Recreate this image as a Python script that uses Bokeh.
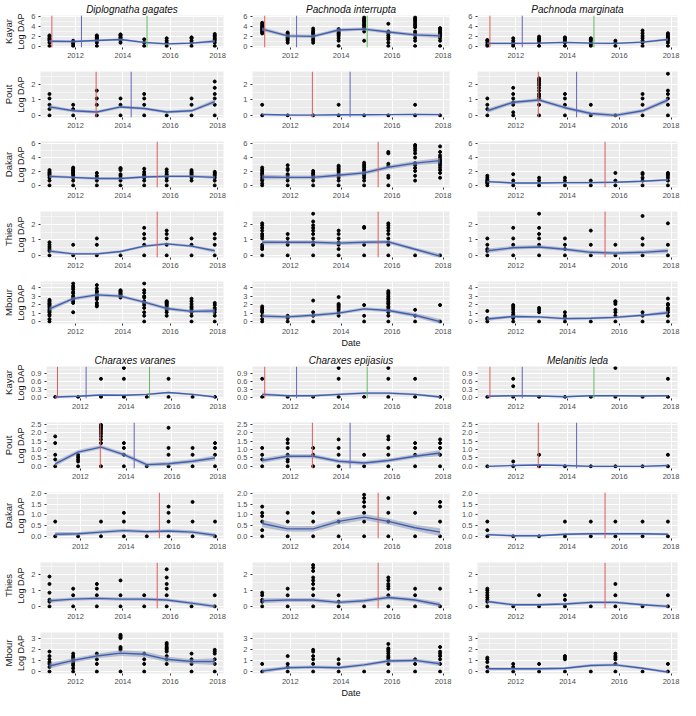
from bokeh.plotting import figure
from bokeh.layouts import column, row
from bokeh.models import Range1d, FixedTicker, PrintfTickFormatter, Span, Title
from bokeh.embed import file_html
from bokeh.resources import INLINE

FONT = "Liberation Sans"

# ---------------- data ----------------
DATES = [2010.9, 2011.9, 2012.9, 2013.9, 2014.9, 2015.85, 2016.9, 2017.88]
X_TICKS = [2012, 2014, 2016, 2018]
X_MINOR = [2011, 2013, 2015, 2017]
SITES = ["Kayar", "Pout", "Dakar", "Thies", "Mbour"]
SPECIES_1 = ["Diplognatha gagates", "Pachnoda interrupta", "Pachnoda marginata"]
SPECIES_2 = ["Charaxes varanes", "Charaxes epijasius", "Melanitis leda"]

RED, BLUE, GREEN = "#DC5C5C", "#6464B8", "#62B862"
EVENTS = {
    "Kayar": [(2011.0, RED), (2012.25, BLUE), (2015.02, GREEN)],
    "Pout": [(2012.87, RED), (2014.35, BLUE)],
    "Dakar": [(2015.45, RED)],
    "Thies": [(2015.45, RED)],
    "Mbour": [],
}

# Diplognatha gagates
DG_KAY = [[0, 0.69, 1.1, 1.39, 1.61, 1.95, 2.2], [0, 0.41, 0.69, 1.1], [0, 0.69, 1.1, 1.39, 1.61, 1.79, 2.08, 2.2],
          [0.69, 1.1, 1.39, 1.61, 1.79, 2.08, 2.3, 2.4], [0, 0.69, 1.39], [0, 0.69, 1.1, 1.61],
          [0, 0.69, 1.1, 1.61, 1.79], [0, 0.69, 1.1, 1.39, 1.61, 1.95, 2.2, 2.5]]
DG_KAY_FIT = [1.0, 0.95, 1.15, 1.35, 0.75, 0.45, 0.6, 1.0]
DG_KAY_SE = [0.25, 0.2, 0.2, 0.2, 0.2, 0.2, 0.2, 0.3]
DG_POU = [[0, 0.41, 0.69, 1.1, 1.39], [0, 0.41, 0.69], [0, 0.69, 1.1, 1.61], [0, 0.69, 1.1], [0, 0.69, 1.1, 1.39],
          [0], [0, 0.69, 1.1], [0, 0.69, 1.1, 1.39, 1.79, 2.2]]
DG_POU_FIT = [0.55, 0.3, 0.22, 0.55, 0.45, 0.22, 0.3, 0.9]
DG_POU_SE = [0.12, 0.1, 0.1, 0.1, 0.1, 0.1, 0.1, 0.15]
DG_DAK = [[0, 0.69, 1.1, 1.39, 1.61, 1.79, 1.95, 2.2], [0, 0.69, 1.1, 1.39, 1.61, 1.79, 1.95, 2.08, 2.2, 2.4, 2.56],
          [0, 0.69, 1.1, 1.39, 1.79], [0, 0.69, 1.1, 1.39, 1.61, 2.2, 2.4, 2.5], [0, 0.69, 1.1, 1.39, 1.61, 1.95, 2.4],
          [0, 0.69, 1.1, 1.39, 1.61, 1.95, 2.3], [0.69, 1.1, 1.39, 1.61, 1.79, 1.95, 2.2],
          [0, 0.69, 1.1, 1.39, 1.61, 1.79, 1.95]]
DG_DAK_FIT = [1.3, 1.15, 1.0, 1.0, 1.2, 1.3, 1.3, 1.15]
DG_DAK_SE = [0.22, 0.18, 0.18, 0.18, 0.18, 0.18, 0.18, 0.22]
DG_THI = [[0, 0.29, 0.41, 0.55, 0.69, 0.85], [0, 0.69], [0, 0.69, 1.1], [0], [0, 0.69, 1.1, 1.39, 1.79],
          [0, 0.69, 1.1, 1.39, 1.61], [0, 0.69, 1.1], [0, 0.69, 1.1, 1.39]]
DG_THI_FIT = [0.28, 0.1, 0.1, 0.25, 0.6, 0.75, 0.6, 0.3]
DG_THI_SE = [0.1, 0.08, 0.08, 0.08, 0.08, 0.08, 0.08, 0.12]
DG_MBO = [[0, 0.29, 0.69, 0.85, 1.1, 1.25, 1.39, 1.61, 1.79, 1.95, 2.08, 2.2, 2.4, 2.56],
          [1.1, 2.2, 2.4, 2.64, 2.77, 3.0, 3.33, 3.5, 3.8, 4.0, 4.2, 4.5],
          [1.79, 1.95, 2.2, 2.64, 2.83, 3.0, 3.22, 3.5, 3.6, 3.9, 4.3],
          [2.83, 3.0, 3.14, 3.26, 3.37, 3.5, 3.6, 3.7],
          [0, 0.69, 1.1, 1.61, 1.95, 2.2, 2.4, 2.83, 3.0, 3.4, 3.7, 4.5],
          [0.69, 1.1, 1.39, 1.61, 1.79, 1.95, 2.08, 2.2, 2.3, 2.4],
          [0, 0.69, 1.1, 1.39, 1.61, 1.79, 2.08, 2.4, 2.7], [0, 0.69, 1.1, 1.39, 1.61, 1.95, 2.2]]
DG_MBO_FIT = [1.5, 2.7, 3.15, 3.0, 2.3, 1.55, 1.2, 1.25]
DG_MBO_SE = [0.25, 0.2, 0.2, 0.2, 0.2, 0.2, 0.2, 0.3]

# Pachnoda interrupta
PI_KAY = [[2.6, 2.8, 3.0, 3.2, 3.4, 3.6, 3.8, 4.0, 4.2, 4.5, 4.8], [0.69, 1.1, 1.39, 1.61, 1.79, 2.08, 2.3, 2.56, 2.8],
          [0.69, 1.1, 1.39, 1.79, 2.08, 2.4, 2.64, 2.9, 3.2, 3.6], [0, 1.1, 1.61, 2.08, 2.4, 2.64, 2.9, 3.2, 3.5],
          [1.1, 3.0, 3.7, 4.0, 4.3, 4.5, 4.8, 5.1, 5.3, 5.6, 5.9], [0, 0.69, 1.39, 1.79, 2.2, 2.64, 3.0, 4.6],
          [0, 1.1, 1.61, 2.2, 2.64, 3.0, 3.9, 4.3, 4.6, 5.0, 5.3, 5.6, 5.9],
          [0, 1.1, 1.61, 2.08, 2.4, 2.64, 2.89, 3.2, 3.5, 3.7]]
PI_KAY_FIT = [3.5, 2.1, 2.0, 3.3, 3.5, 2.9, 2.3, 2.1]
PI_KAY_SE = [0.4, 0.35, 0.35, 0.35, 0.35, 0.35, 0.35, 0.45]
PI_POU = [[0, 0.69], [0], [0], [0, 0.69], [0], [0], [0, 0.69], [0]]
PI_POU_FIT = [0.06, 0.03, 0.02, 0.04, 0.04, 0.05, 0.07, 0.05]
PI_POU_SE = [0.05, 0.04, 0.04, 0.04, 0.04, 0.04, 0.04, 0.05]
PI_DAK = [[0, 0.29, 0.69, 0.85, 1.1, 1.39, 1.61, 1.79, 2.08, 2.3, 2.56], [0, 0.69, 1.1, 1.39, 1.61, 2.2, 2.4, 2.9],
          [0, 0.69, 1.1, 1.39, 1.61, 1.79, 2.08], [0, 0.69, 1.1, 1.39, 1.61, 1.95, 2.2, 2.4, 2.64, 2.83],
          [0, 0.69, 1.1, 1.39, 1.61, 1.79, 2.08, 2.3, 2.56, 2.77, 3.0, 3.26], [0, 1.1, 1.39, 2.8, 3.1, 4.6, 4.8],
          [0.69, 1.39, 2.08, 2.5, 2.9, 3.2, 4.0, 4.6, 5.0, 5.3, 5.6, 5.8],
          [1.1, 1.79, 2.2, 2.56, 2.9, 3.2, 3.5, 3.7, 4.0, 4.3, 4.8, 5.6]]
PI_DAK_FIT = [1.2, 1.15, 1.15, 1.45, 1.8, 2.6, 3.2, 3.55]
PI_DAK_SE = [0.35, 0.28, 0.28, 0.28, 0.28, 0.3, 0.3, 0.4]
PI_THI = [[0, 0.41, 0.55, 0.69, 1.1, 1.25, 1.39, 1.61, 1.79, 1.95, 2.08], [0, 0.69, 0.85, 1.1, 1.39],
          [0, 0.69, 0.85, 1.1, 1.39, 1.61, 1.79, 1.95, 2.2, 2.71], [0, 0.41, 0.69, 0.85, 1.1, 1.39, 1.61],
          [0, 0.69, 1.79, 1.85], [0, 0.69, 0.85, 1.1, 1.39, 1.61, 1.79, 1.95, 2.08], [0], [0]]
PI_THI_FIT = [0.85, 0.85, 0.85, 0.8, 0.85, 0.88, 0.4, -0.05]
PI_THI_SE = [0.15, 0.12, 0.12, 0.12, 0.12, 0.12, 0.12, 0.15]
PI_MBO = [[0, 0.29, 0.69, 1.1, 1.25, 1.39, 1.61, 1.79], [0, 0.41, 0.69], [0, 0.69, 1.1, 2.48],
          [0.69, 1.1, 1.39, 1.61, 1.79, 1.95, 2.08, 2.89], [0, 0.69, 1.95],
          [0, 0.69, 1.1, 1.39, 1.61, 1.79, 2.08, 2.2, 2.4, 2.64, 2.77, 3.0, 3.26, 3.4, 3.6], [0, 0.69, 1.39], [0, 1.95]]
PI_MBO_FIT = [0.65, 0.55, 0.75, 1.0, 1.5, 1.3, 0.75, 0.0]
PI_MBO_SE = [0.25, 0.2, 0.2, 0.2, 0.2, 0.2, 0.25, 0.3]

# Pachnoda marginata
PM_KAY = [[0, 0.29, 0.69, 1.1, 1.25], [0, 0.41, 0.69, 1.1, 1.61], [0, 0.69, 1.1, 1.39, 1.61, 1.95],
          [0, 0.69, 1.1, 1.39, 1.61, 1.79], [0, 0.41, 0.69, 1.1, 1.39, 1.61], [0, 0.69, 1.1],
          [0, 0.69, 1.1, 1.61, 2.08, 2.64, 3.2], [0, 0.69, 1.1, 1.39, 1.61, 1.79, 2.08, 2.4, 2.64]]
PM_KAY_FIT = [0.55, 0.55, 0.6, 0.75, 0.6, 0.55, 0.8, 1.35]
PM_KAY_SE = [0.2, 0.17, 0.17, 0.17, 0.17, 0.17, 0.17, 0.25]
PM_POU = [[0, 0.41, 0.69, 1.1], [0, 0.2, 0.69, 0.85, 1.1, 1.39, 1.79],
          [0, 0.69, 1.1, 1.25, 1.39, 1.61, 1.79, 1.95, 2.08, 2.2, 2.3, 2.4], [0, 0.69, 1.1, 1.39], [0, 0.69], [0],
          [0, 0.69, 1.1, 1.39], [0, 0.69, 1.1, 1.39, 1.61, 2.71]]
PM_POU_FIT = [0.3, 0.85, 1.0, 0.5, 0.12, 0.0, 0.3, 1.0]
PM_POU_SE = [0.15, 0.12, 0.12, 0.12, 0.12, 0.12, 0.12, 0.15]
PM_DAK = [[0, 0.29, 0.41, 0.55, 0.69, 0.85, 1.1, 1.39], [0, 0.69, 1.61], [0, 0.69, 1.1], [0, 0.69, 1.1], [0, 0.69],
          [0, 0.69, 1.79], [0, 0.69, 1.1, 1.61, 1.79], [0, 0.69, 1.1, 1.39, 1.61, 1.79]]
PM_DAK_FIT = [0.55, 0.35, 0.35, 0.4, 0.4, 0.45, 0.6, 0.8]
PM_DAK_SE = [0.15, 0.12, 0.12, 0.12, 0.12, 0.12, 0.12, 0.15]
PM_THI = [[0, 0.29, 0.41, 0.69, 1.1], [0, 0.69, 1.1, 1.79], [0, 0.69, 1.1, 1.39, 1.79, 2.71], [0, 0.41, 0.69, 1.1],
          [0, 0.69, 1.61], [0, 0.69], [0, 0.69, 1.1, 2.56], [0, 0.69, 2.08]]
PM_THI_FIT = [0.3, 0.5, 0.55, 0.4, 0.2, 0.15, 0.2, 0.3]
PM_THI_SE = [0.15, 0.12, 0.12, 0.12, 0.12, 0.12, 0.12, 0.15]
PM_MBO = [[0, 0.29, 0.41, 1.25], [0, 0.41, 0.69, 0.85, 1.1, 1.39, 1.61, 1.79, 1.95], [0, 1.1, 1.39, 1.61],
          [0, 0.41, 0.69, 1.1], [0], [0, 0.69, 1.1, 1.39, 2.08, 2.3, 2.4], [0, 0.69, 1.1],
          [0, 0.69, 1.1, 1.39, 1.61, 1.95, 2.08, 2.71]]
PM_MBO_FIT = [0.3, 0.6, 0.55, 0.35, 0.4, 0.5, 0.75, 1.05]
PM_MBO_SE = [0.2, 0.15, 0.15, 0.15, 0.15, 0.15, 0.15, 0.22]

# Charaxes varanes
CV_KAY = [[0], [0], [0, 0.69], [0, 0.69, 1.1], [0], [0, 0.69], [0], [0]]
CV_KAY_FIT = [0.0, 0.03, 0.08, 0.07, 0.1, 0.17, 0.1, 0.0]
CV_KAY_SE = [0.04, 0.03, 0.03, 0.03, 0.03, 0.03, 0.03, 0.04]
CV_POU = [[0, 0.41, 0.69, 1.39, 1.79], [0, 0.29, 0.41, 0.55, 0.69],
          [0, 1.39, 1.61, 1.79, 1.95, 2.08, 2.2, 2.3, 2.4, 2.48], [0, 0.69, 1.1, 1.39], [0], [0, 0.69, 1.1, 2.3],
          [0, 0.69, 1.1], [0, 0.69, 1.1, 1.39]]
CV_POU_FIT = [0.15, 0.85, 1.15, 0.7, 0.1, 0.15, 0.3, 0.5]
CV_POU_SE = [0.15, 0.12, 0.12, 0.12, 0.12, 0.12, 0.12, 0.15]
CV_DAK = [[0, 0.69], [0], [0, 0.69], [0, 0.69, 1.1], [0], [0, 0.69, 1.1, 1.39], [0, 0.69, 1.61], [0, 0.69]]
CV_DAK_FIT = [0.1, 0.12, 0.2, 0.27, 0.22, 0.25, 0.2, 0.05]
CV_DAK_SE = [0.1, 0.08, 0.08, 0.08, 0.08, 0.08, 0.08, 0.1]
CV_THI = [[0, 0.29, 0.41, 0.85, 1.39, 1.85], [0, 0.69, 1.1], [0, 0.69, 1.1, 1.39], [0, 0.69, 1.61], [0, 0.69],
          [0, 0.69, 1.1, 1.39, 1.79, 2.3], [0], [0, 0.69]]
CV_THI_FIT = [0.35, 0.45, 0.5, 0.45, 0.45, 0.4, 0.2, 0.0]
CV_THI_SE = [0.12, 0.1, 0.1, 0.1, 0.1, 0.1, 0.1, 0.12]
CV_MBO = [[0, 0.41, 0.69, 0.85, 1.1, 1.39, 1.79], [0, 0.29, 0.55, 0.69, 0.85, 1.1, 1.25, 1.39, 1.61],
          [0, 0.69, 1.1, 1.61], [0, 1.95, 2.08, 2.2, 3.0, 3.1, 3.2, 3.3], [0, 0.69, 1.1, 1.61],
          [0.69, 1.1, 1.39, 1.79, 1.95, 2.08, 2.2, 2.4, 2.56], [0, 0.69, 1.1, 1.61], [0, 0.69, 1.1, 1.61, 1.79, 1.95]]
CV_MBO_FIT = [0.5, 1.0, 1.4, 1.65, 1.55, 1.1, 0.9, 0.9]
CV_MBO_SE = [0.25, 0.2, 0.2, 0.25, 0.25, 0.25, 0.2, 0.3]

# Charaxes epijasius
CE_KAY = [[0, 0.69], [0], [0], [0, 0.69, 1.1], [0], [0, 0.69, 1.1], [0, 0.69], [0]]
CE_KAY_FIT = [0.1, 0.05, 0.05, 0.1, 0.15, 0.15, 0.1, 0.0]
CE_KAY_SE = [0.06, 0.04, 0.04, 0.04, 0.04, 0.04, 0.04, 0.05]
CE_POU = [[0, 0.41, 0.69, 1.1], [0, 0.29, 0.41, 0.69, 1.1, 1.39, 1.61], [0, 0.69, 1.1], [0, 0.69, 1.1, 1.61],
          [0, 0.69], [0, 0.69, 1.1, 1.61, 1.79], [0, 0.69, 1.1, 1.39], [0, 0.69, 1.1, 1.39, 1.61]]
CE_POU_FIT = [0.35, 0.6, 0.6, 0.3, 0.2, 0.35, 0.6, 0.8]
CE_POU_SE = [0.15, 0.12, 0.12, 0.12, 0.12, 0.12, 0.12, 0.18]
CE_DAK = [[0, 0.29, 0.69, 0.95, 1.1, 1.39], [0, 0.69, 1.1], [0, 0.69, 1.1], [0, 0.69, 1.1],
          [0, 0.69, 1.1, 1.39, 1.61, 1.79, 1.95], [0, 0.69, 1.1, 1.79], [0, 1.1], [0, 0.69, 1.39, 1.61]]
CE_DAK_FIT = [0.6, 0.35, 0.35, 0.7, 0.9, 0.7, 0.4, 0.2]
CE_DAK_SE = [0.18, 0.14, 0.14, 0.14, 0.14, 0.14, 0.14, 0.18]
CE_THI = [[0, 0.29, 0.41, 0.69, 0.85], [0, 0.69, 1.1], [0, 0.69, 1.1, 1.39, 1.61, 1.79, 2.2, 2.4, 2.56],
          [0, 0.29, 0.69], [0], [0, 0.69, 1.1, 1.25, 1.39, 1.61, 1.79], [0, 0.69, 1.1], [0, 1.1]]
CE_THI_FIT = [0.35, 0.4, 0.4, 0.25, 0.35, 0.55, 0.4, 0.1]
CE_THI_SE = [0.15, 0.12, 0.12, 0.12, 0.12, 0.12, 0.12, 0.15]
CE_MBO = [[0, 0.69], [0, 0.41, 0.69, 1.39], [0, 0.69, 1.1, 1.39, 1.79, 1.95], [0, 0.69, 1.1], [0],
          [0, 0.69, 1.1, 1.25, 1.39, 1.61, 1.79, 1.95, 2.08, 2.48], [0, 0.69, 1.1],
          [0, 0.69, 1.1, 1.39, 1.61, 1.79, 2.2]]
CE_MBO_FIT = [0.05, 0.35, 0.4, 0.35, 0.6, 0.95, 1.0, 0.7]
CE_MBO_SE = [0.2, 0.15, 0.15, 0.15, 0.15, 0.15, 0.15, 0.2]

# Melanitis leda
ML_KAY = [[0], [0, 0.41, 0.69], [0], [0], [0], [0, 1.1], [0], [0, 0.69]]
ML_KAY_FIT = [0.03, 0.05, 0.04, 0.01, 0.05, 0.05, 0.04, 0.05]
ML_KAY_SE = [0.03, 0.03, 0.03, 0.03, 0.03, 0.03, 0.03, 0.03]
ML_POU = [[0], [0, 0.29], [0, 0.69], [0], [0], [0], [0], [0, 0.69]]
ML_POU_FIT = [0.0, 0.05, 0.08, 0.05, 0.0, 0.0, 0.0, 0.05]
ML_POU_SE = [0.04, 0.04, 0.04, 0.04, 0.04, 0.04, 0.04, 0.04]
ML_DAK = [[0, 0.29, 0.69], [0], [0], [0, 0.69], [0, 0.69], [0, 0.69], [0, 0.69], [0, 0.69]]
ML_DAK_FIT = [0.08, 0.03, 0.03, 0.1, 0.12, 0.12, 0.12, 0.1]
ML_DAK_SE = [0.05, 0.05, 0.05, 0.05, 0.05, 0.05, 0.05, 0.05]
ML_THI = [[0, 0.29, 0.41, 0.55, 0.69, 0.85, 1.0, 1.1], [0], [0, 0.69], [0, 0.41, 0.69], [0], [0, 0.69, 1.39],
          [0], [0, 0.69]]
ML_THI_FIT = [0.3, 0.1, 0.1, 0.15, 0.25, 0.25, 0.1, 0.0]
ML_THI_SE = [0.08, 0.08, 0.08, 0.08, 0.08, 0.08, 0.08, 0.08]
ML_MBO = [[0, 0.41, 0.85, 1.1, 1.25], [0, 0.41, 0.69], [0, 0.69], [0, 1.1, 1.25, 1.39], [0],
          [0, 0.69, 1.1, 1.25, 1.39, 1.61], [0], [0, 0.69]]
ML_MBO_FIT = [0.25, 0.25, 0.25, 0.3, 0.55, 0.6, 0.3, -0.05]
ML_MBO_SE = [0.12, 0.12, 0.12, 0.12, 0.12, 0.12, 0.12, 0.12]

# y-axis (limits, ticks, minor ticks, label format) per site and block
Y1 = {
    "Kayar": ((-0.3, 6.3), [0, 2, 4, 6], [1, 3, 5], "%d"),
    "Pout": ((-0.136, 2.85), [0, 1, 2], [0.5, 1.5, 2.5], "%d"),
    "Dakar": ((-0.3, 6.3), [0, 2, 4, 6], [1, 3, 5], "%d"),
    "Thies": ((-0.136, 2.85), [0, 1, 2], [0.5, 1.5, 2.5], "%d"),
    "Mbour": ((-0.225, 4.725), [0, 1, 2, 3, 4], [0.5, 1.5, 2.5, 3.5, 4.5], "%d"),
}
Y2 = {
    "Kayar": ((-0.055, 1.155), [0, 0.3, 0.6, 0.9], [0.15, 0.45, 0.75, 1.05], "%.1f"),
    "Pout": ((-0.13, 2.62), [0, 0.5, 1.0, 1.5, 2.0, 2.5], [0.25, 0.75, 1.25, 1.75, 2.25], "%.1f"),
    "Dakar": ((-0.1, 2.05), [0, 0.5, 1.0, 1.5, 2.0], [0.25, 0.75, 1.25, 1.75], "%.1f"),
    "Thies": ((-0.13, 2.72), [0, 1, 2], [0.5, 1.5, 2.5], "%d"),
    "Mbour": ((-0.17, 3.5), [0, 1, 2, 3], [0.5, 1.5, 2.5, 3.5], "%d"),
}

BLOCK1 = [
    (SPECIES_1[0], [(DG_KAY, DG_KAY_FIT, DG_KAY_SE), (DG_POU, DG_POU_FIT, DG_POU_SE), (DG_DAK, DG_DAK_FIT, DG_DAK_SE),
                    (DG_THI, DG_THI_FIT, DG_THI_SE), (DG_MBO, DG_MBO_FIT, DG_MBO_SE)]),
    (SPECIES_1[1], [(PI_KAY, PI_KAY_FIT, PI_KAY_SE), (PI_POU, PI_POU_FIT, PI_POU_SE), (PI_DAK, PI_DAK_FIT, PI_DAK_SE),
                    (PI_THI, PI_THI_FIT, PI_THI_SE), (PI_MBO, PI_MBO_FIT, PI_MBO_SE)]),
    (SPECIES_1[2], [(PM_KAY, PM_KAY_FIT, PM_KAY_SE), (PM_POU, PM_POU_FIT, PM_POU_SE), (PM_DAK, PM_DAK_FIT, PM_DAK_SE),
                    (PM_THI, PM_THI_FIT, PM_THI_SE), (PM_MBO, PM_MBO_FIT, PM_MBO_SE)]),
]
BLOCK2 = [
    (SPECIES_2[0], [(CV_KAY, CV_KAY_FIT, CV_KAY_SE), (CV_POU, CV_POU_FIT, CV_POU_SE), (CV_DAK, CV_DAK_FIT, CV_DAK_SE),
                    (CV_THI, CV_THI_FIT, CV_THI_SE), (CV_MBO, CV_MBO_FIT, CV_MBO_SE)]),
    (SPECIES_2[1], [(CE_KAY, CE_KAY_FIT, CE_KAY_SE), (CE_POU, CE_POU_FIT, CE_POU_SE), (CE_DAK, CE_DAK_FIT, CE_DAK_SE),
                    (CE_THI, CE_THI_FIT, CE_THI_SE), (CE_MBO, CE_MBO_FIT, CE_MBO_SE)]),
    (SPECIES_2[2], [(ML_KAY, ML_KAY_FIT, ML_KAY_SE), (ML_POU, ML_POU_FIT, ML_POU_SE), (ML_DAK, ML_DAK_FIT, ML_DAK_SE),
                    (ML_THI, ML_THI_FIT, ML_THI_SE), (ML_MBO, ML_MBO_FIT, ML_MBO_SE)]),
]

# ---------------- layout / style ----------------
X_LO, X_HI = 2010.52, 2018.25
COLS = [(226, 38, 3), (226, 26, 3), (228, 25, 3)]  # width, left border, right border
ROWS1 = [(60, 14, 12), (70, 11, 12), (70, 11, 12), (70, 11, 12), (80, 11, 21)]  # height, top, bottom
ROWS2 = [(61, 16, 12), (70, 11, 12), (70, 11, 12), (70, 11, 12), (79, 11, 21)]
LINE = "#3F60B2"
BAND = "#8E97B5"


def make_panel(species, site, data, yspec, col, rowspec, show_title, show_date):
    pts, fit, se = data
    (ylo, yhi), yt, ymt, fmt = yspec
    h, top, bottom = rowspec
    w, left, right = COLS[col]
    kw = dict(width=w, height=h, x_range=Range1d(X_LO, X_HI), y_range=Range1d(ylo, yhi),
              output_backend="svg", toolbar_location=None,
              min_border_left=left, min_border_right=right,
              min_border_top=top, min_border_bottom=bottom)
    if show_title:
        kw["title"] = Title(text=species, align="center", text_font_size="10px", text_font_style="italic",
                            text_font=FONT, text_color="#111111", standoff=2)
    else:
        kw["title"] = None
    p = figure(**kw)
    p.background_fill_color = "#EBEBEB"
    p.border_fill_color = "white"
    p.outline_line_color = None

    p.xaxis.ticker = FixedTicker(ticks=X_TICKS, minor_ticks=X_MINOR)
    p.yaxis.ticker = FixedTicker(ticks=yt, minor_ticks=ymt)
    p.xaxis.formatter = PrintfTickFormatter(format="%d")
    p.yaxis.formatter = PrintfTickFormatter(format=fmt)
    for ax in (p.xaxis[0], p.yaxis[0]):
        ax.axis_line_color = None
        ax.major_tick_line_color = "#333333"
        ax.major_tick_out = 2
        ax.major_tick_in = 0
        ax.minor_tick_line_color = None
        ax.major_label_text_font_size = "7.5px"
        ax.major_label_text_color = "#4D4D4D"
        ax.major_label_text_font = FONT
        ax.major_label_standoff = 1
        ax.axis_label_text_font = FONT
        ax.axis_label_text_font_style = "normal"
        ax.axis_label_text_font_size = "9px"
        ax.axis_label_text_color = "#111111"
        ax.axis_label_standoff = 2
    for g in (p.xgrid[0], p.ygrid[0]):
        g.grid_line_color = "white"
        g.grid_line_width = 1
        g.minor_grid_line_color = "white"
        g.minor_grid_line_width = 0.5

    if col == 0:
        p.yaxis.axis_label = "Log DAP"
        p.add_layout(Title(text=site, align="center", text_font_size="9.5px", text_font_style="normal",
                           text_font=FONT, text_color="#222222", standoff=0), "left")
    if show_date:
        p.xaxis.axis_label = "Date"
        p.xaxis.axis_label_standoff = 1

    xs, ys = [], []
    for d, vals in zip(DATES, pts):
        for v in vals:
            xs.append(d)
            ys.append(v)
    p.scatter(xs, ys, size=3.0, color="black")
    lower = [f - s for f, s in zip(fit, se)]
    upper = [f + s for f, s in zip(fit, se)]
    p.varea(x=DATES, y1=lower, y2=upper, fill_color=BAND, fill_alpha=0.55)
    p.line(DATES, fit, line_color=LINE, line_width=1.4)
    for loc, c in EVENTS[site]:
        p.add_layout(Span(location=loc, dimension="height", line_color=c, line_width=1))
    return p


rows = []
for block, yspecs, rowspecs in ((BLOCK1, Y1, ROWS1), (BLOCK2, Y2, ROWS2)):
    for si, site in enumerate(SITES):
        figs = []
        for ci, (species, panels) in enumerate(block):
            figs.append(make_panel(species, site, panels[si], yspecs[site], ci, rowspecs[si],
                                   show_title=(si == 0), show_date=(si == 4 and ci == 1)))
        rows.append(row(*figs, spacing=0))

layout = column(*rows, spacing=0)
open("out.html", "w").write(file_html(layout, INLINE))
